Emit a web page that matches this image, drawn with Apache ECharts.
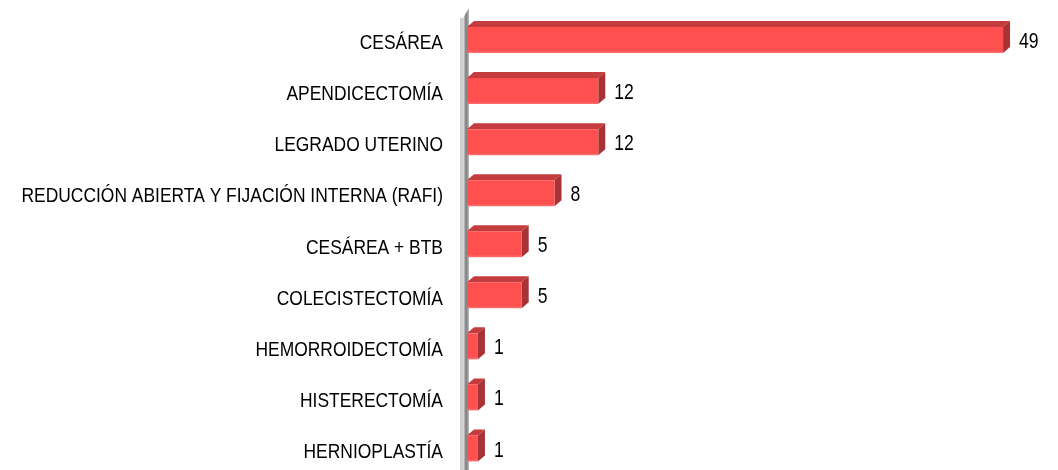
<!DOCTYPE html>
<html>
<head>
<meta charset="utf-8">
<script src="https://cdn.jsdelivr.net/npm/echarts@6/dist/echarts.min.js"></script>
<style>
  html, body { margin: 0; padding: 0; background: #fff; }
  #main { width: 1058px; height: 470px; }
</style>
</head>
<body>
<div id="main"></div>
<script>
const procedures = [
  "CESÁREA",
  "APENDICECTOMÍA",
  "LEGRADO UTERINO",
  "REDUCCIÓN ABIERTA Y FIJACIÓN INTERNA (RAFI)",
  "CESÁREA + BTB",
  "COLECISTECTOMÍA",
  "HEMORROIDECTOMÍA",
  "HISTERECTOMÍA",
  "HERNIOPLASTÍA",
];
const counts = [49, 12, 12, 8, 5, 5, 1, 1, 1];

// the original uses a narrow Arial; squeeze Liberation Sans to match
const FONT = "21px 'Liberation Sans', Arial, sans-serif";
const VALUE_FONT = "22px 'Liberation Sans', Arial, sans-serif";
const SQUEEZE = 0.83;
const DX = 7, DY = 6, HALF = 13;

function renderBar(params, api) {
  const cat = api.value(0);
  const v = api.value(1);
  const p0 = api.coord([0, cat]);
  const p1 = api.coord([v, cat]);
  const x0 = p0[0], x1 = p1[0], yc = p0[1];
  const yt = yc - HALF, yb = yc + HALF;
  return {
    type: "group",
    children: [
      {
        type: "polygon",
        shape: { points: [[x0, yt], [x1, yt], [x1 + DX, yt - DY], [x0 + DX, yt - DY]] },
        style: { fill: "#c43c3e" },
      },
      {
        type: "polygon",
        shape: { points: [[x1, yt], [x1 + DX, yt - DY], [x1 + DX, yb - DY], [x1, yb]] },
        style: { fill: "#a83234" },
      },
      {
        type: "rect",
        shape: { x: x0, y: yt, width: x1 - x0, height: yb - yt },
        style: {
          fill: {
            type: "linear", x: 0, y: 0, x2: 0, y2: 1,
            colorStops: [
              { offset: 0, color: "#ff4f4f" },
              { offset: 0.9, color: "#ff5050" },
              { offset: 1, color: "#ff7373" },
            ],
          },
        },
      },
      // value label
      {
        type: "text",
        x: x1 + 16,
        y: yc + 2,
        scaleX: 0.8,
        style: {
          text: String(v),
          x: 0, y: 0,
          verticalAlign: "middle",
          fill: "#000",
          font: VALUE_FONT,
        },
      },
      // category label
      {
        type: "text",
        x: x0 - 24,
        y: yc + 3.5,
        scaleX: SQUEEZE,
        style: {
          text: procedures[cat],
          x: 0, y: 0,
          align: "right",
          verticalAlign: "middle",
          fill: "#000",
          font: FONT,
        },
      },
    ],
  };
}

function renderWall(params, api) {
  const cs = params.coordSys;
  const x = cs.x;
  const top = 8, bottom = 470;
  return {
    type: "group",
    children: [
      {
        type: "rect",
        shape: { x: x - 7, y: top + 10, width: 3, height: bottom - top - 10 },
        style: { fill: "#d0d0d0" },
      },
      {
        type: "polygon",
        shape: { points: [[x - 4, top + 10], [x + 2, top], [x + 2, bottom], [x - 4, bottom]] },
        style: {
          fill: {
            type: "linear", x: 0, y: 0, x2: 1, y2: 0,
            colorStops: [
              { offset: 0, color: "#e8e8e8" },
              { offset: 0.5, color: "#7a7a7a" },
              { offset: 1, color: "#bdbdbd" },
            ],
          },
        },
      },
    ],
  };
}

const chart = echarts.init(document.getElementById("main"), null, { renderer: "canvas" });
chart.setOption({
  animation: false,
  backgroundColor: "#fff",
  grid: {
    left: 467, right: 44, top: 14.5, bottom: -4,
    containLabel: false,
    outerBoundsMode: "none",
  },
  xAxis: {
    type: "value",
    min: 0,
    max: 50,
    show: false,
  },
  yAxis: {
    type: "category",
    inverse: true,
    data: procedures,
    axisLine: { show: false },
    axisTick: { show: false },
    splitLine: { show: false },
    axisLabel: { show: false },
  },
  series: [
    {
      type: "custom",
      renderItem: renderWall,
      data: [[0, 0]],
      encode: { x: 0, y: 1 },
      silent: true,
      z: 1,
    },
    {
      type: "custom",
      renderItem: renderBar,
      data: procedures.map((p, i) => [i, counts[i]]),
      encode: { y: 0, x: 1 },
      z: 2,
    },
  ],
});
</script>
</body>
</html>
